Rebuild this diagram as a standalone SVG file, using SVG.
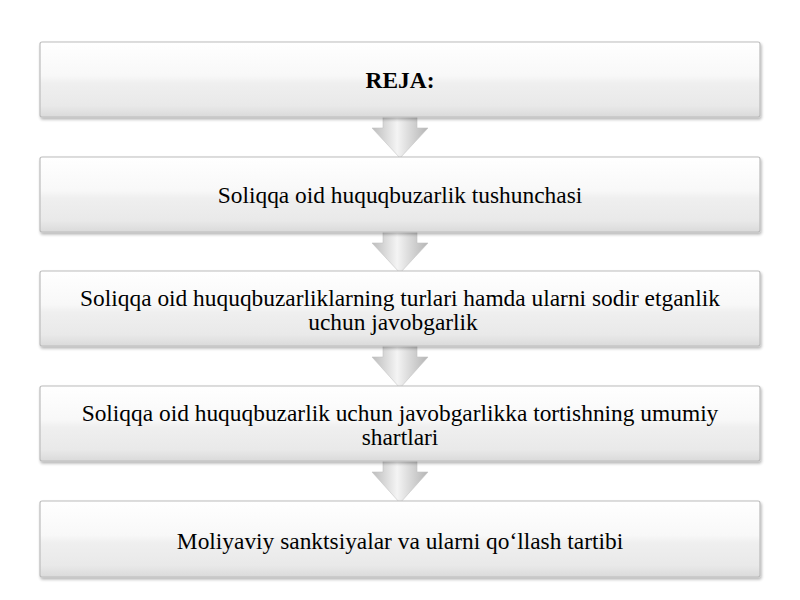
<svg xmlns="http://www.w3.org/2000/svg" width="800" height="600" viewBox="0 0 800 600">
<defs>
<linearGradient id="boxg" x1="0" y1="0" x2="0" y2="1">
<stop offset="0" stop-color="#ffffff"/>
<stop offset="0.45" stop-color="#f8f8f8"/>
<stop offset="0.55" stop-color="#efefef"/>
<stop offset="0.85" stop-color="#e9e9e9"/>
<stop offset="1" stop-color="#dadada"/>
</linearGradient>
<linearGradient id="arrg" x1="0" y1="0" x2="1" y2="0">
<stop offset="0" stop-color="#bcbcbc"/>
<stop offset="0.45" stop-color="#f4f4f4"/>
<stop offset="0.6" stop-color="#e2e2e2"/>
<stop offset="1" stop-color="#b4b4b4"/>
</linearGradient>
<filter id="sh" x="-5%" y="-20%" width="110%" height="150%">
<feGaussianBlur in="SourceAlpha" stdDeviation="1.5"/>
<feOffset dx="1" dy="2" result="b"/>
<feComponentTransfer><feFuncA type="linear" slope="0.3"/></feComponentTransfer>
<feMerge><feMergeNode/><feMergeNode in="SourceGraphic"/></feMerge>
</filter>
</defs>
<style>
.box{fill:url(#boxg);stroke:#bcbcbc;stroke-width:1.2;filter:url(#sh)}
.arr{fill:url(#arrg);stroke:#c4c4c4;stroke-width:0.6}
.t{font-family:"Liberation Serif","Times New Roman",serif;font-size:23.4px;fill:#000;text-anchor:middle}
.b{font-weight:bold}
</style>
<rect width="800" height="600" fill="#ffffff"/>
<g id="connectors">
<path class="arr" d="M383,110 L417,110 L417,128 L428,128 L400,158 L372,128 L383,128 Z"/>
<path class="arr" d="M383,225 L417,225 L417,243 L428,243 L400,273 L372,243 L383,243 Z"/>
<path class="arr" d="M383,339 L417,339 L417,357 L428,357 L400,388 L372,357 L383,357 Z"/>
<path class="arr" d="M383,454 L417,454 L417,472 L428,472 L400,503 L372,472 L383,472 Z"/>
</g>
<g id="n1"><rect class="box" x="40" y="42" width="720" height="75" rx="2"/><text class="t b" x="400" y="88">REJA:</text></g>
<g id="n2"><rect class="box" x="40" y="157" width="720" height="75" rx="2"/><text class="t" x="400" y="203">Soliqqa oid huquqbuzarlik tushunchasi</text></g>
<g id="n3"><rect class="box" x="40" y="271" width="720" height="75" rx="2"/><text class="t" x="400" y="306">Soliqqa oid huquqbuzarliklarning turlari hamda ularni sodir etganlik</text><text class="t" x="393" y="330">uchun javobgarlik</text></g>
<g id="n4"><rect class="box" x="40" y="386" width="720" height="75" rx="2"/><text class="t" x="400" y="421">Soliqqa oid huquqbuzarlik uchun javobgarlikka tortishning umumiy</text><text class="t" x="400" y="445">shartlari</text></g>
<g id="n5"><rect class="box" x="40" y="501" width="720" height="76" rx="2"/><text class="t" x="400" y="549">Moliyaviy sanktsiyalar va ularni qo‘llash tartibi</text></g>
</svg>
